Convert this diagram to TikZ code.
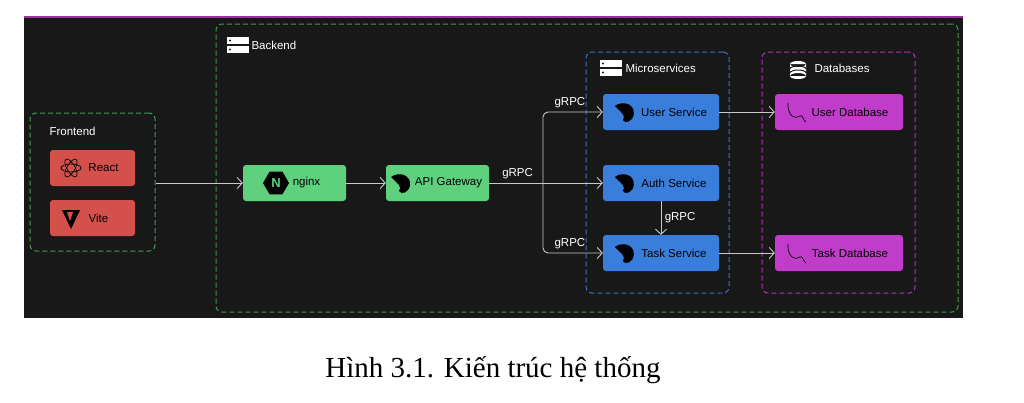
\documentclass[tikz,border=0pt]{standalone}
\usepackage{fontspec}
\setmainfont{Liberation Serif}
\setsansfont{Liberation Sans}
\usetikzlibrary{positioning,fit,calc,arrows.meta,shapes.geometric}
\definecolor{panel}{HTML}{181818}
\definecolor{grn}{HTML}{5FD07E}
\definecolor{grnline}{HTML}{3E9B52}
\definecolor{redbox}{HTML}{D4504A}
\definecolor{bluebox}{HTML}{3A7EDB}
\definecolor{blueline}{HTML}{3A6FC0}
\definecolor{magbox}{HTML}{C23CCB}
\definecolor{magline}{HTML}{B030B8}
\definecolor{arrgray}{HTML}{C8C8C8}
\tikzset{grp/.style={draw=#1, dashed, dash pattern=on 5pt off 3pt, line width=1pt, rounded corners=6}}
\tikzset{svc/.style={fill=#1, rounded corners=3, minimum height=36pt, font=\sffamily\fontsize{11.5}{13}\selectfont, text=black}}
\tikzset{glabel/.style={font=\sffamily\fontsize{11.5}{13}\selectfont, text=white}}
\tikzset{arr/.style={draw=arrgray, line width=0.9pt, -{Straight Barb[length=5pt,width=11pt]}, rounded corners=5}}
\newcommand{\srvicon}[1]{%
  \fill[white] ($(#1)+(-11,-8)$) rectangle ++(22,7);
  \fill[white] ($(#1)+(-11,1)$) rectangle ++(22,7);
  \fill[panel] ($(#1)+(-8,-4.5)$) circle (1.2);
  \fill[panel] ($(#1)+(-8,4.5)$) circle (1.2);}
\newcommand{\nesticon}[1]{%
  \fill[black] ($(#1)+(-10,-6)$) .. controls ($(#1)+(-2,-12)$) and ($(#1)+(10,-8)$) .. ($(#1)+(9,2)$)
    .. controls ($(#1)+(8,10)$) and ($(#1)+(0,12)$) .. ($(#1)+(-2,8)$)
    .. controls ($(#1)+(2,4)$) and ($(#1)+(-4,0)$) .. ($(#1)+(-10,-6)$) -- cycle;}
\newcommand{\dolphin}[1]{%
  \draw[black, line width=0.7pt] ($(#1)+(-9,-9)$) .. controls ($(#1)+(-9,4)$) and ($(#1)+(-2,8)$) .. ($(#1)+(3,4)$)
    .. controls ($(#1)+(6,2)$) and ($(#1)+(6,8)$) .. ($(#1)+(9,10)$);}
\begin{document}
\begin{tikzpicture}[x=1pt,y=-1pt]
  \useasboundingbox (0,0) rectangle (1024,402);
  \fill[panel] (24,17) rectangle (963,318);
  \draw[violet!80, line width=1.5pt] (24,17) -- (963,17);
  % groups
  \node[grp=grnline, minimum width=125pt, minimum height=138pt] (frontend) at (92.5,182) {};
  \node[grp=grnline, minimum width=742pt, minimum height=288pt] (backend) at (587,168) {};
  \node[grp=blueline, minimum width=143pt, minimum height=241pt] (micro) at (657.5,172.5) {};
  \node[grp=magline, minimum width=153pt, minimum height=241pt] (dbs) at (838.5,172.5) {};
  \node[glabel, anchor=west] at (46,131) {Frontend};
  \node[glabel, anchor=west] at (248,45) {Backend};
  \node[glabel, anchor=west] at (622,68) {Microservices};
  \node[glabel, anchor=west] at (811,68) {Databases};
  \srvicon{238,45}
  \srvicon{611,68}
  \fill[white] (798,76) ellipse (8 and 3) (790,64) rectangle (806,76) (798,64) ellipse (8 and 3);
  \draw[panel, line width=1pt] (790,69) arc[start angle=180, end angle=360, x radius=8, y radius=3]
    (790,73) arc[start angle=180, end angle=360, x radius=8, y radius=3];
  % frontend
  \node[svc=redbox, minimum width=85pt] (react) at (92.5,168) {\hspace*{22pt}React};
  \node[svc=redbox, minimum width=85pt] (vite) at (92.5,218) {\hspace*{12pt}Vite};
  \foreach \a in {0,60,120} \draw[black, line width=0.7pt, rotate around={\a:(71,168)}] (71,168) ellipse (10 and 4);
  \fill[black] (62,210) -- (80,210) -- (71,229) -- cycle;
  \fill[redbox] (67,212) -- (73,212) -- (70,221) -- cycle;
  % backend
  \node[svc=grn, minimum width=103pt] (nginx) at (294.5,183) {\hspace*{24pt}nginx};
  \node[regular polygon, regular polygon sides=6, fill=black, minimum size=26pt, inner sep=0pt,
    text=grn, font=\sffamily\bfseries\fontsize{13}{13}\selectfont] (nlogo) at (276,183) {N};
  \node[svc=grn, minimum width=103pt] (gateway) at (437.5,183) {\hspace*{22pt}API Gateway};
  \nesticon{401,183}
  \node[svc=bluebox, minimum width=116pt] (user) at (661,112) {\hspace*{26pt}User Service};
  \node[svc=bluebox, minimum width=116pt] (auth) at (661,183) {\hspace*{26pt}Auth Service};
  \node[svc=bluebox, minimum width=116pt] (task) at (661,253) {\hspace*{26pt}Task Service};
  \foreach \s in {user,auth,task} {
    \coordinate (ic) at ($(\s.west)+(22,0)$);
    \nesticon{ic}
  }
  \node[svc=magbox, minimum width=128pt] (userdb) at (839,112) {\hspace*{22pt}User Database};
  \node[svc=magbox, minimum width=128pt] (taskdb) at (839,253) {\hspace*{22pt}Task Database};
  \foreach \s in {userdb,taskdb} {
    \coordinate (ic) at ($(\s.west)+(22,0)$);
    \dolphin{ic}
  }
  % connectors
  \coordinate (split) at (543,183);
  \draw[arr] (frontend.east |- nginx) -- (nginx);
  \draw[arr] (nginx) -- (gateway);
  \draw[arr] (gateway) -- node[glabel, above, pos=0.25] {gRPC} (auth);
  \draw[arr] (split) -- (543,112) -- node[glabel, above, pos=0.45] {gRPC} (user);
  \draw[arr] (split) -- (543,253) -- node[glabel, above, pos=0.45] {gRPC} (task);
  \draw[arr] (auth) -- node[glabel, right] {gRPC} (task);
  \draw[arr] (user) -- (userdb);
  \draw[arr] (task) -- (taskdb);
  % caption
  \node[font=\fontsize{29}{34}\selectfont] (caption) at (493,370) {Hình 3.1. Kiến trúc hệ thống};
\end{tikzpicture}
\end{document}
